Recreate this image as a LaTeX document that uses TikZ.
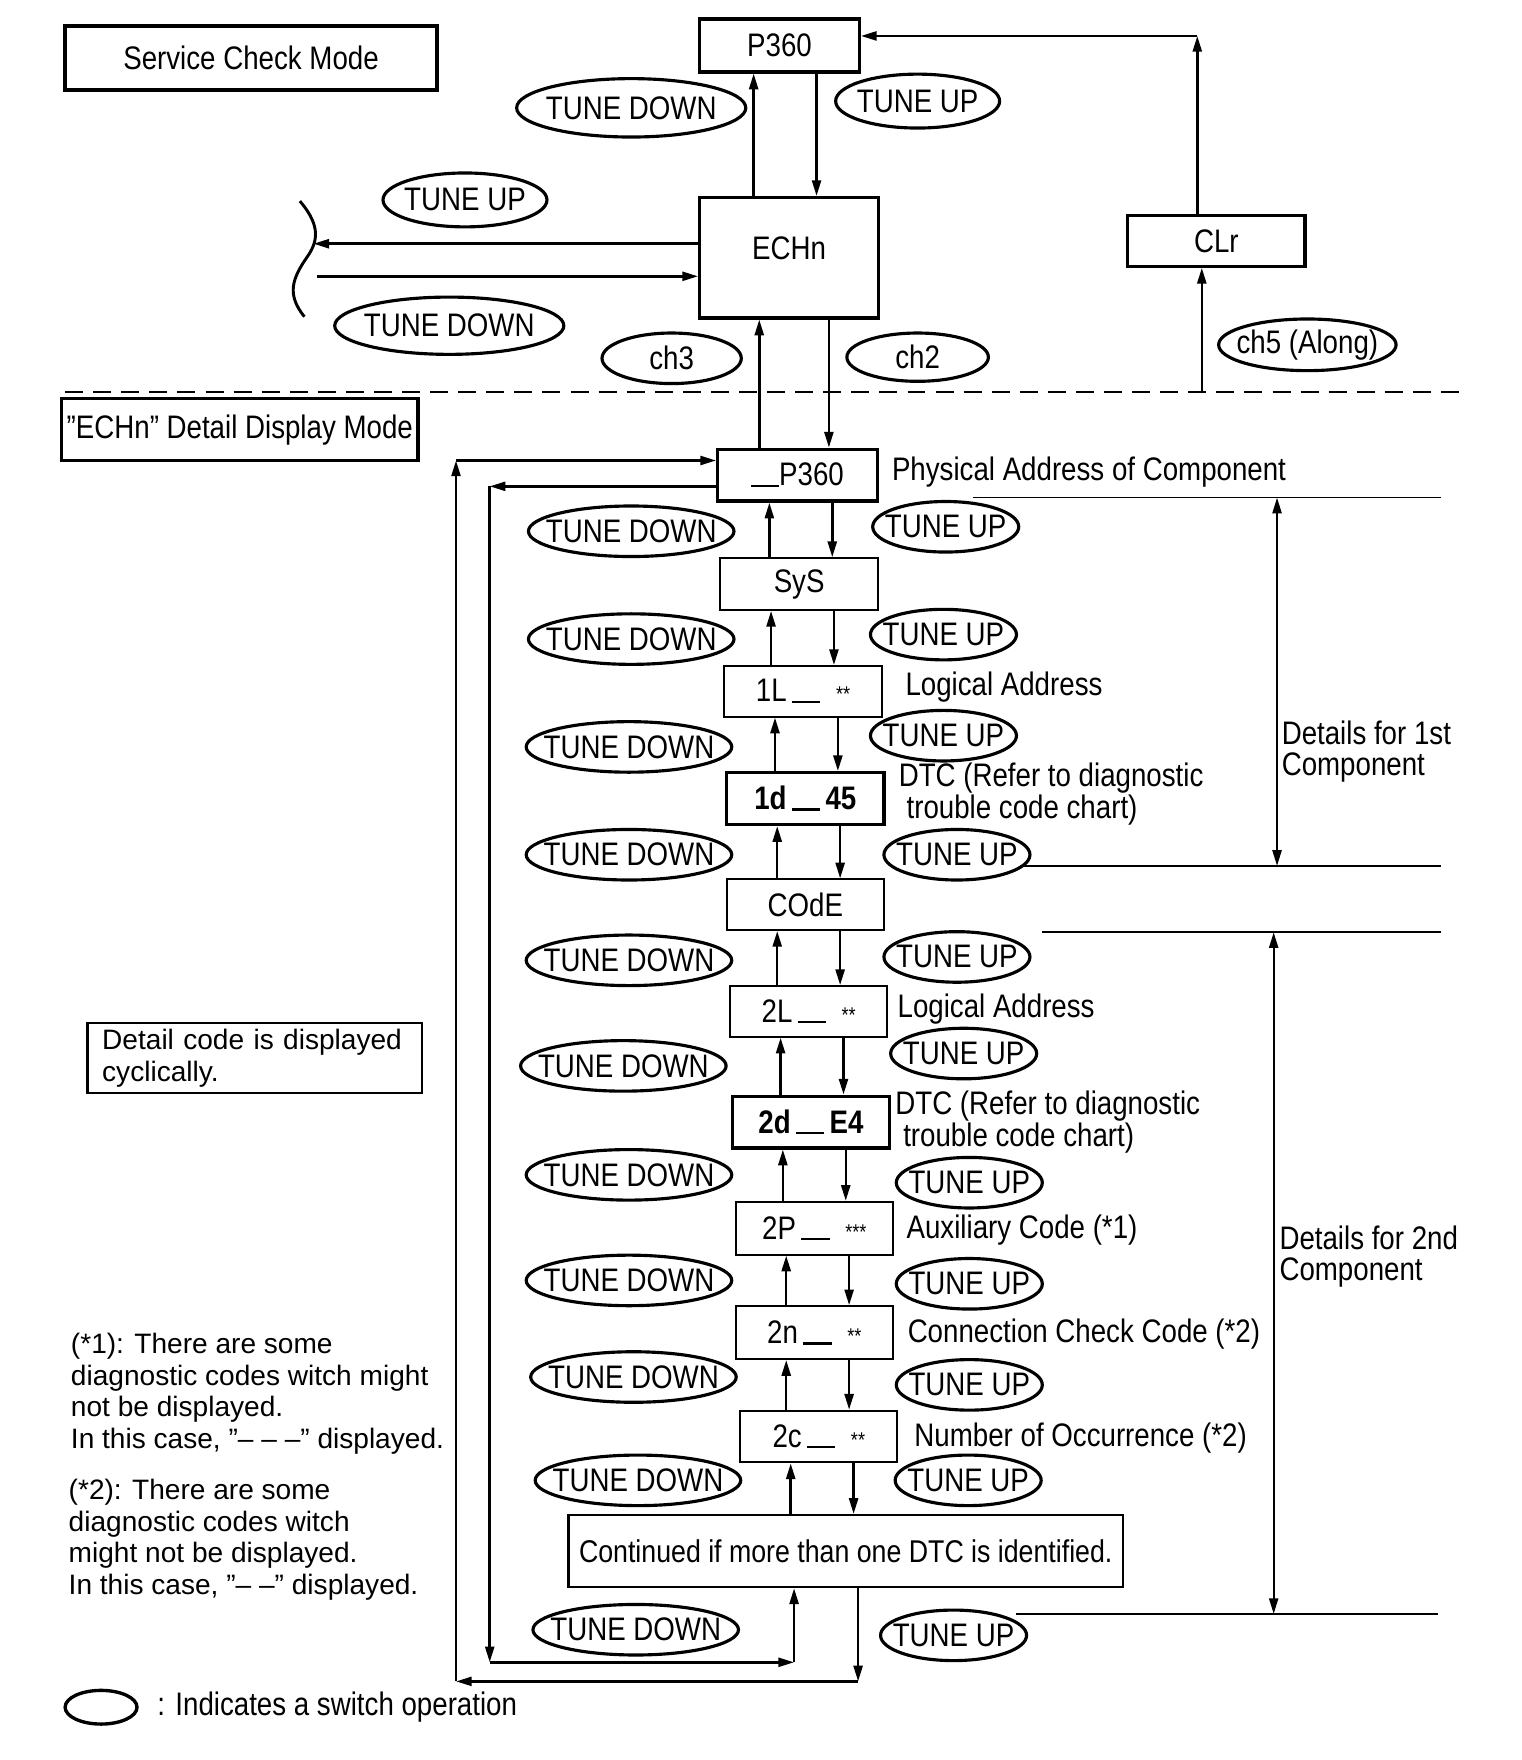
\documentclass[tikz,border=0pt]{standalone}
\usepackage{fontspec}
\setmainfont{Liberation Sans}
\newfontfamily\narrowfont{Liberation Sans}[FakeStretch=0.85]
\usetikzlibrary{arrows.meta,shapes.geometric,positioning}
\newcommand\segbar{\rule[-1pt]{25pt}{2.2pt}}
\newcommand\starmark[1]{{\fontsize{19}{19}\selectfont #1}}

\begin{document}
\begin{tikzpicture}[x=1pt,y=-1pt]
	\tikzstyle{every node}=[font=\narrowfont\fontsize{29}{28}\selectfont]
	\tikzstyle{heavybox}=[draw, line width=3pt, inner sep=0pt, minimum width=140pt, minimum height=46pt]
	\tikzstyle{lightbox}=[draw, line width=1.8pt, inner sep=0pt, minimum width=140pt, minimum height=46pt]
	\tikzstyle{switch}=[ellipse, draw, line width=2.8pt, inner sep=0pt, execute at begin node={\hbox to 0pt\bgroup\hss}, execute at end node={\hss\egroup}]
	\tikzstyle{tunedown}=[switch, minimum width=183pt, minimum height=45pt]
	\tikzstyle{tuneup}=[switch, minimum width=130pt, minimum height=45pt]
	\tikzstyle{flow}=[draw, line width=2.2pt, -{Triangle[length=14pt,width=8pt]}]
	\tikzstyle{span}=[draw, line width=2pt, {Triangle[length=14pt,width=8pt]}-{Triangle[length=14pt,width=8pt]}]
	\tikzstyle{guide}=[draw, line width=1.6pt]
	\tikzstyle{caption}=[anchor=west, inner sep=0pt, align=left]
	\tikzstyle{note}=[anchor=west, inner sep=0pt, align=left, font=\fontsize{25}{28}\selectfont]

	\useasboundingbox (0,0) rectangle (1355,1567);

	% service check mode
	\node [heavybox, minimum width=331pt, minimum height=57pt] (svc) at (223.5,51.5) {Service Check Mode};
	\node [heavybox, minimum width=142pt, minimum height=47pt] (p360) at (694,40.5) {P360};
	\node [heavybox, minimum width=159pt, minimum height=107pt] (echn) at (702.5,229.5) {\raisebox{18pt}{ECHn}};
	\node [heavybox, minimum width=158pt, minimum height=45pt] (clr) at (1083,214.5) {CLr};

	\node [switch, minimum width=204pt, minimum height=52pt] (sdn0) at (562,96) {TUNE DOWN};
	\node [switch, minimum width=146pt, minimum height=48pt] (sup0) at (817,90) {TUNE UP};
	\node [switch, minimum width=146pt, minimum height=48pt] (sup1) at (414,178) {TUNE UP};
	\node [switch, minimum width=204pt, minimum height=51pt] (sdn1) at (400,290) {TUNE DOWN};
	\node [switch, minimum width=124pt, minimum height=45pt] (ch3) at (598,319) {ch3};
	\node [switch, minimum width=126pt, minimum height=43pt] (ch2) at (817,318) {ch2};
	\node [switch, minimum width=158pt, minimum height=46pt] (ch5) at (1164,307) {ch5 (Along)};

	\path ([xshift=-23pt]p360.south) coordinate (pu) ([xshift=33pt]p360.south) coordinate (pd);
	\draw [flow] (pu |- echn.north) -- (pu);
	\draw [flow] (pd) -- (pd |- echn.north);

	% clear loop
	\coordinate (clrbase) at (1070,349);
	\coordinate (clrtop) at (1066,32);
	\draw [flow] (clrbase) -- (clrbase |- clr.south);
	\draw [flow] (clrtop |- clr.north) -- (clrtop);
	\draw [flow] (clrtop) -- (clrtop -| p360.east);

	% other channels
	\coordinate (brkl) at (279,217);
	\coordinate (brkr) at (282,246);
	\draw [flow] ([yshift=12.5pt]echn.west) -- (brkl);
	\draw [flow] (brkr) -- (brkr -| echn.west);
	\draw [line width=2.6pt] (267,179) .. controls (283,198) and (285,212) .. (274,228) .. controls (260,248) and (255,262) .. (271,282);

	\draw [line width=1.6pt, dash pattern=on 16pt off 9pt] (58,349) -- (1300,349);

	% detail display mode
	\node [heavybox, minimum width=317pt, minimum height=55pt] (ddm) at (213.5,382.5) {”ECHn” Detail Display Mode};

	\node [heavybox, minimum width=142pt] (ap360) at (710,423) {\segbar P360};
	\node [lightbox, minimum width=141pt] (sys) at (711.5,520) {SyS};
	\node [lightbox, minimum height=45pt] (l1) at (715,615.5) {1L\,\segbar\hspace{14pt}\starmark{**}};
	\node [heavybox] (d1) at (717,711) {\bfseries 1d\,\segbar\,45};
	\node [lightbox, minimum height=45pt] (code) at (717,805.5) {COdE};
	\node [lightbox, minimum height=45pt] (l2) at (720,900.5) {2L\,\segbar\hspace{14pt}\starmark{**}};
	\node [heavybox] (d2) at (722,999) {\bfseries 2d\,\segbar\,E4};
	\node [lightbox, minimum height=47pt] (p2) at (725,1093.5) {2P\,\segbar\hspace{14pt}\starmark{***}};
	\node [lightbox, minimum height=47pt] (n2) at (725,1186.5) {2n\,\segbar\hspace{14pt}\starmark{**}};
	\node [lightbox] (c2) at (729,1279) {2c\,\segbar\hspace{14pt}\starmark{**}};
	\node [draw, line width=2.2pt, minimum width=494pt, minimum height=64pt, inner sep=0pt, font=\narrowfont\fontsize{28}{28}\selectfont] (cont) at (753,1381) {Continued if more than one DTC is identified.};

	\path ([xshift=-34pt]ap360.north) coordinate (eu) ([xshift=28pt]ap360.north) coordinate (ed);
	\draw [flow] (eu) -- (eu |- echn.south);
	\draw [flow] (ed |- echn.south) -- (ed);

	\foreach \hi/\lo in {ap360/sys, sys/l1, l1/d1, d1/code, code/l2, l2/d2, d2/p2, p2/n2, n2/c2, c2/cont} {
		\path ([xshift=-25pt]\hi.south) coordinate (back) ([xshift=31pt]\hi.south) coordinate (fwd);
		\draw [flow] (back |- \lo.north) -- (back);
		\draw [flow] (fwd) -- (fwd |- \lo.north);
	}

	\node [tunedown] (dn1) at (562,473) {TUNE DOWN};
	\node [tunedown] (dn2) at (562,569) {TUNE DOWN};
	\node [tunedown] (dn3) at (560,665) {TUNE DOWN};
	\node [tunedown] (dn4) at (560,761) {TUNE DOWN};
	\node [tunedown] (dn5) at (560,855) {TUNE DOWN};
	\node [tunedown] (dn6) at (555,949) {TUNE DOWN};
	\node [tunedown] (dn7) at (560,1046) {TUNE DOWN};
	\node [tunedown] (dn8) at (560,1140) {TUNE DOWN};
	\node [tunedown] (dn9) at (564,1226) {TUNE DOWN};
	\node [tunedown] (dn10) at (568,1318) {TUNE DOWN};
	\node [tunedown] (dn11) at (566,1451) {TUNE DOWN};

	\node [tuneup] (up1) at (842,469) {TUNE UP};
	\node [tuneup] (up2) at (840,565) {TUNE UP};
	\node [tuneup] (up3) at (840,655) {TUNE UP};
	\node [tuneup] (up4) at (852,761) {TUNE UP};
	\node [tuneup] (up5) at (852,852) {TUNE UP};
	\node [tuneup] (up6) at (858,938) {TUNE UP};
	\node [tuneup] (up7) at (863,1053) {TUNE UP};
	\node [tuneup] (up8) at (863,1143) {TUNE UP};
	\node [tuneup] (up9) at (863,1233) {TUNE UP};
	\node [tuneup] (up10) at (862,1318) {TUNE UP};
	\node [tuneup] (up11) at (849,1456) {TUNE UP};

	% cyclic loops
	\coordinate (outtop) at (406,410);
	\coordinate (outbot) at (406,1497);
	\coordinate (outright) at (764,1497);
	\coordinate (intop) at (436,433);
	\coordinate (inbot) at (436,1480);
	\coordinate (inright) at (707,1480);
	\draw [flow] (outright |- cont.south) -- (outright);
	\draw [flow] (outright) -- (outbot);
	\draw [flow] (outbot) -- (outtop);
	\draw [flow] (outtop) -- (outtop -| ap360.west);
	\draw [flow] (intop -| ap360.west) -- (intop);
	\draw [flow] (intop) -- (inbot);
	\draw [flow] (inbot) -- (inright);
	\draw [flow] (inright) -- (inright |- cont.south);

	% descriptions
	\node [caption] (phys) at (794,420) {Physical Address of Component};
	\node [caption] (la1) at (806,612) {Logical Address};
	\node [caption] (dtc1) at (800,707) {DTC (Refer to diagnostic\\\hspace*{7pt}trouble code chart)};
	\node [caption] (la2) at (799,898) {Logical Address};
	\node [caption] (dtc2) at (797,999) {DTC (Refer to diagnostic\\\hspace*{7pt}trouble code chart)};
	\node [caption] (aux) at (807,1095) {Auxiliary Code (*1)};
	\node [caption] (conn) at (808,1188) {Connection Check Code (*2)};
	\node [caption] (occ) at (814,1280) {Number of Occurrence (*2)};
	\node [caption] (det1) at (1141,669) {Details for 1st\\Component};
	\node [caption] (det2) at (1139,1119) {Details for 2nd\\Component};

	\draw [guide] (866,443) -- (1283,443);
	\draw [guide] (908,771) -- (1283,771);
	\draw [guide] (928,830) -- (1283,830);
	\draw [guide] (905,1437) -- (1280,1437);
	\coordinate (s1t) at (1137,443);
	\coordinate (s1b) at (1137,771);
	\coordinate (s2t) at (1134,830);
	\coordinate (s2b) at (1134,1437);
	\draw [span] (s1t) -- (s1b);
	\draw [span] (s2t) -- (s2b);

	% notes
	\node [draw, line width=2pt, minimum width=298pt, minimum height=62pt, text width=272pt, align=left, inner xsep=13pt, inner ysep=0pt, font=\fontsize{25}{28}\selectfont] (cyc) at (227,942) {Detail code is displayed\\cyclically.};
	\node [note] (fn1) at (63,1241) {(*1): There are some\\diagnostic codes witch might\\not be displayed.\\In this case, ”– – –” displayed.};
	\node [note] (fn2) at (61,1371) {(*2): There are some\\diagnostic codes witch\\might not be displayed.\\In this case, ”– –” displayed.};

	\node [switch, line width=3pt, minimum width=64pt, minimum height=30pt] (legsw) at (90,1520) {};
	\node [caption] (legtxt) at (140,1520) {: Indicates a switch operation};
\end{tikzpicture}
\end{document}
